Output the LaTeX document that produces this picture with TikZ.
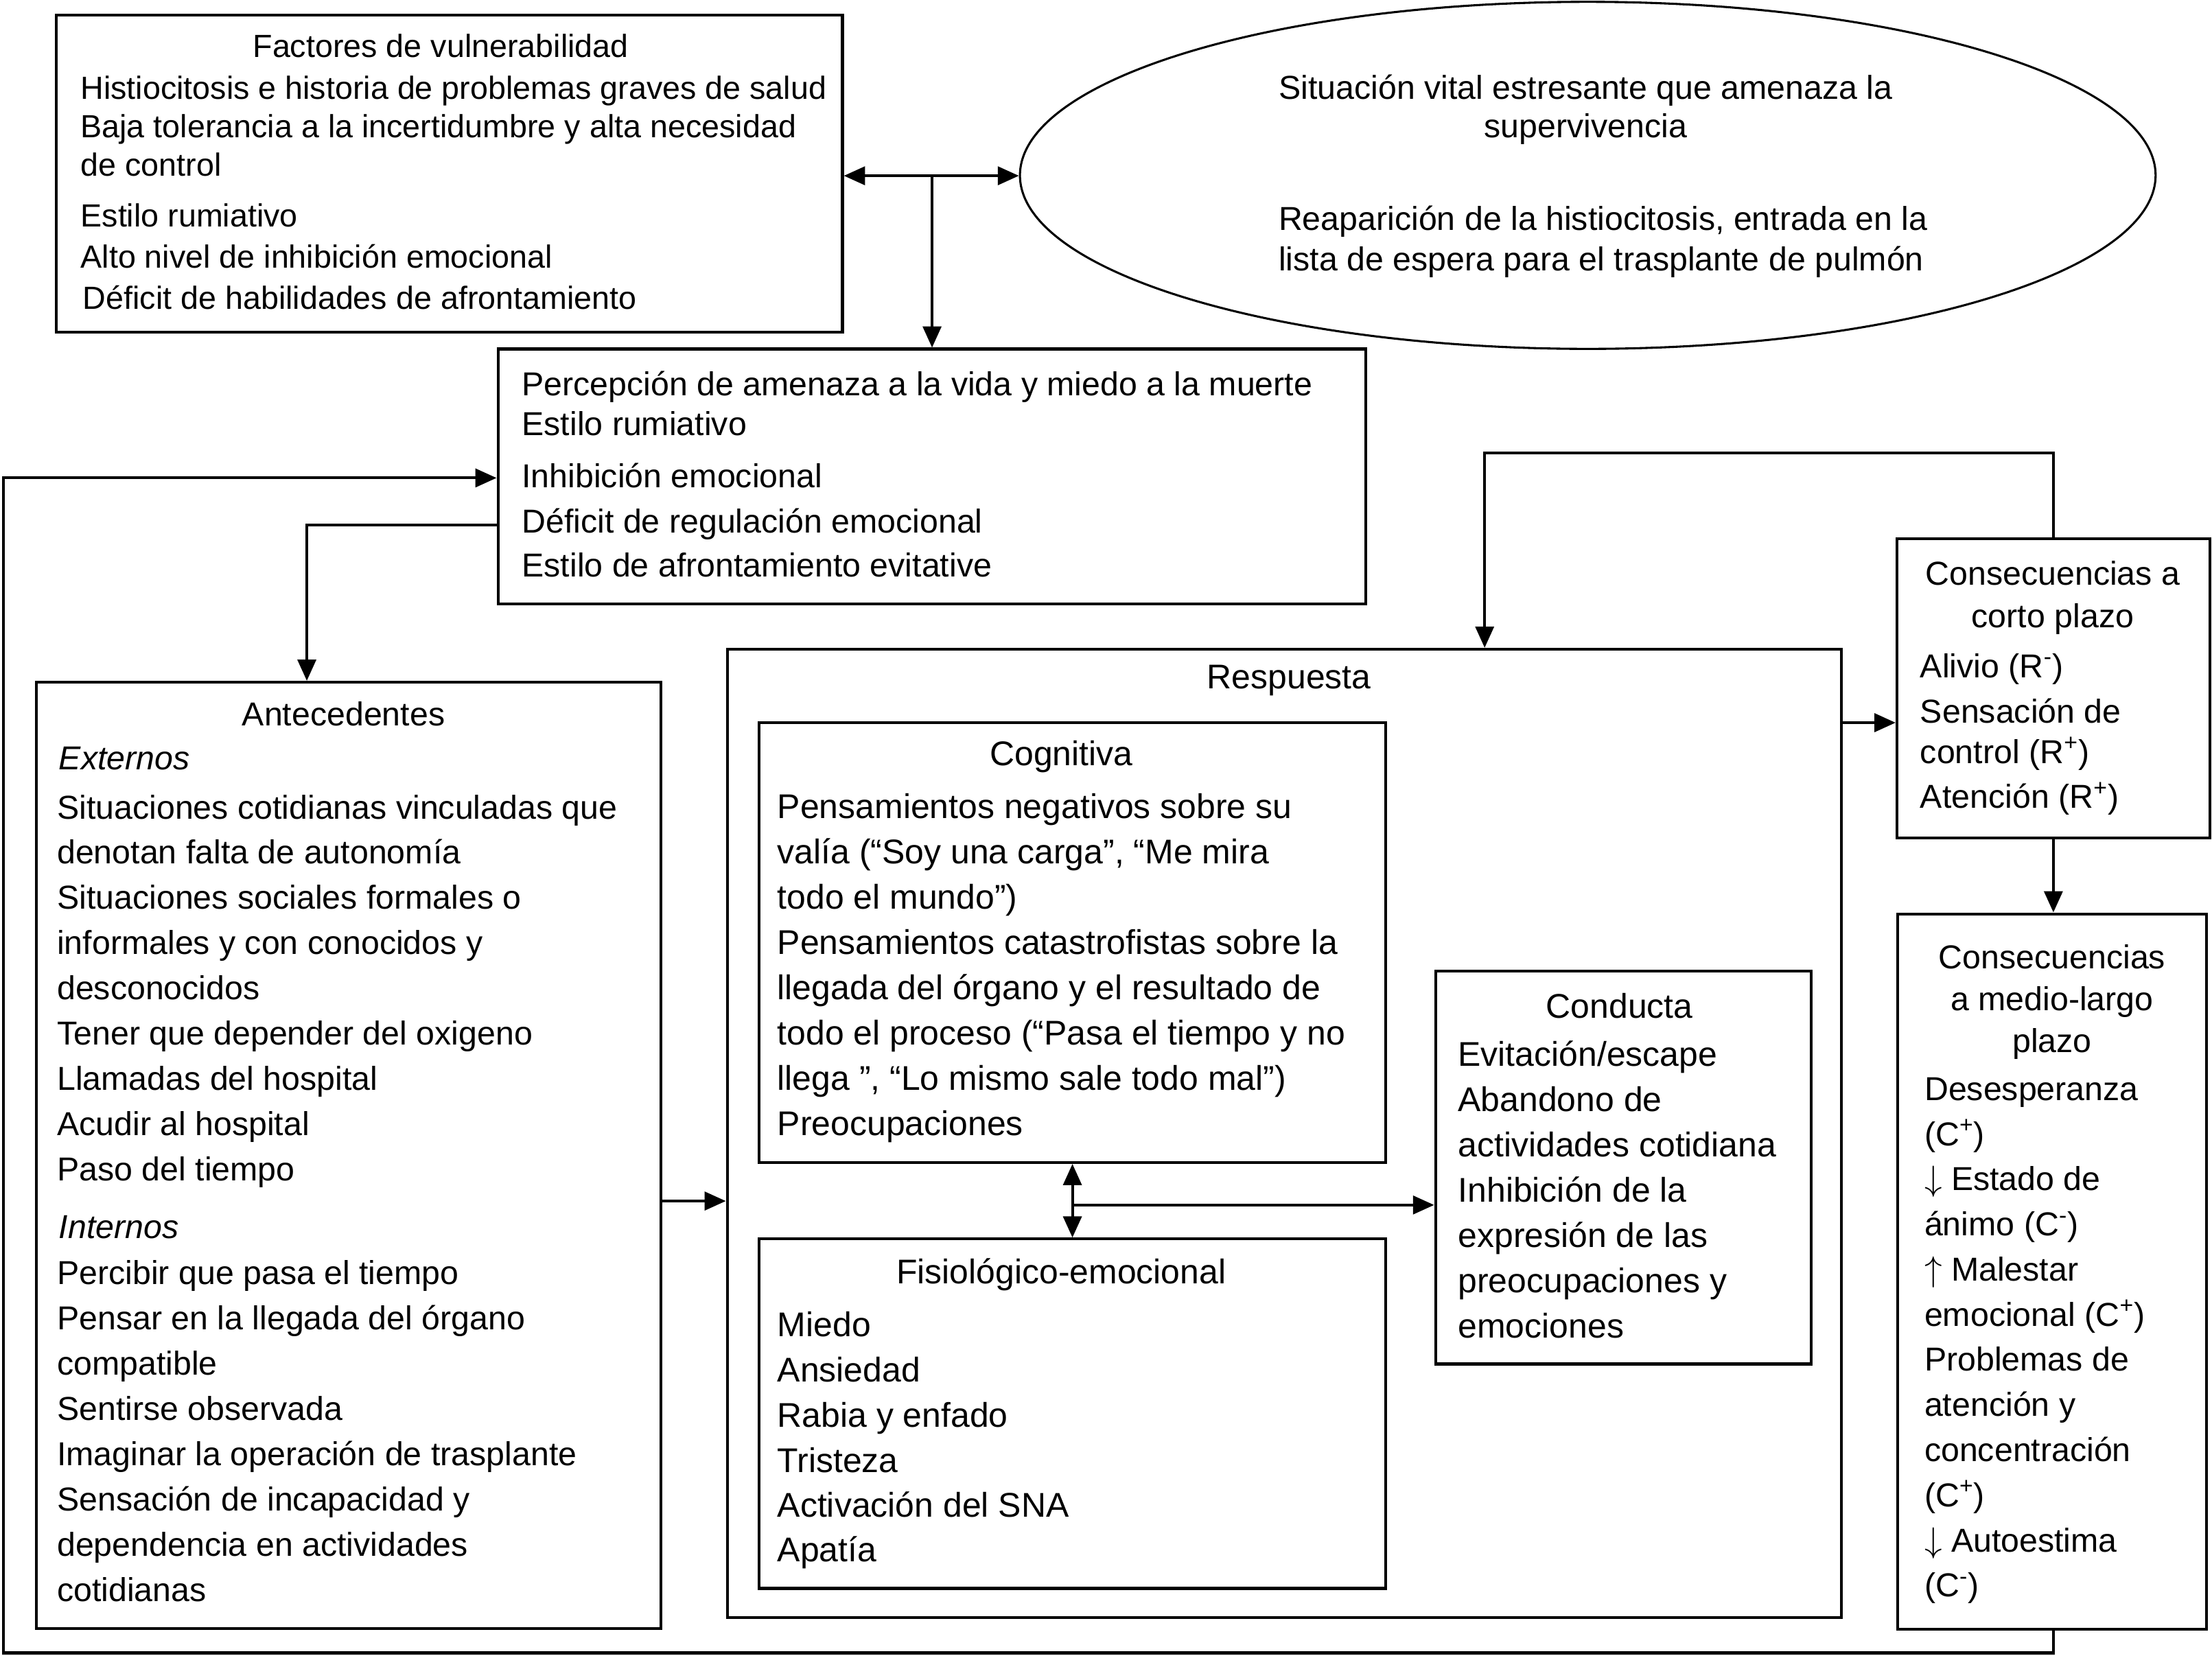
\documentclass[tikz,border=0pt]{standalone}
\usepackage{fontspec}
\setmainfont{Liberation Sans}
\usetikzlibrary{arrows.meta,shapes.geometric,fit}
\begin{document}
\begin{tikzpicture}[x=1pt,y=-1pt,
  box/.style={draw,line width=2pt,inner sep=0pt},
  txt/.style={inner sep=0pt,font=\fontsize{23.5}{28}\selectfont,anchor=base west},
  ttl/.style={txt,anchor=base},
  small/.style={font=\fontsize{22.7}{28}\selectfont},
  big/.style={font=\fontsize{24.3}{28}\selectfont},
  ital/.style={font=\fontsize{23.5}{28}\selectfont\itshape},
  hd/.tip={Triangle[length=15pt,width=13pt]},
  con/.style={line width=2pt},
  arr/.style={con,-hd},
  darr/.style={con,hd-hd}]
\path[fill=white,use as bounding box] (0,0) rectangle (1568,1173.5);

% ---- boxes
\node[box,fit={(39.7,10.6) (597.2,235.4)}] (fac) {};
\node[draw,ellipse,line width=1.5pt,minimum width=805pt,minimum height=246pt,inner sep=0pt] (ell) at (1125.5,124.3) {};
\node[box,fit={(353,247.4) (968,428)}] (per) {};
\node[box,fit={(25.6,483.6) (468.6,1154.5)}] (ant) {};
\node[box,fit={(515.5,460.2) (1305.1,1146.7)}] (resp) {};
\node[box,fit={(538.2,512.3) (982.3,824.1)}] (cog) {};
\node[box,fit={(538.2,878.3) (982.3,1126)}] (fis) {};
\node[box,fit={(1017.6,688.5) (1284,966.9)}] (con) {};
\node[box,fit={(1344.7,381.9) (1566.4,593.8)}] (cco) {};
\node[box,fit={(1345.3,647.8) (1564.1,1155)}] (cml) {};

% ---- texts: Factores
\node[ttl,small] (facT) at (312.4,40.5) {Factores de vulnerabilidad};
\foreach \y/\t [count=\i] in {70.4/{Histiocitosis e historia de problemas graves de salud},
  97.7/{Baja tolerancia a la incertidumbre y alta necesidad},
  124.8/{de control},160.6/{Estilo rumiativo},189.9/{Alto nivel de inhibición emocional}}
  \node[txt,small] (fac\i) at (57,\y) {\t};
\node[txt,small] (fac6) at (58.6,219.2) {Déficit de habilidades de afrontamiento};

% ---- ellipse texts
\node[ttl] (ell1) at (1124,70.4) {Situación vital estresante que amenaza la};
\node[ttl] (ell2) at (1124,97.7) {supervivencia};
\node[txt] (ell3) at (906.2,163.4) {Reaparición de la histiocitosis, entrada en la};
\node[txt] (ell4) at (906.2,192) {lista de espera para el trasplante de pulmón};

% ---- Percepcion
\foreach \y/\t [count=\i] in {280.7/{Percepción de amenaza a la vida y miedo a la muerte},
  308.6/{Estilo rumiativo},345.7/{Inhibición emocional},
  377.6/{Déficit de regulación emocional},409/{Estilo de afrontamiento evitative}}
  \node[txt] (per\i) at (369.8,\y) {\t};

% ---- Antecedentes
\node[ttl] (antT) at (243.5,514.7) {Antecedentes};
\node[txt,ital] (antE) at (41.6,545.7) {Externos};
\foreach \y/\t [count=\i] in {580.4/{Situaciones cotidianas vinculadas que},
  612.4/{denotan falta de autonomía},644.5/{Situaciones sociales formales o},
  676.6/{informales y con conocidos y},708.6/{desconocidos},
  740.6/{Tener que depender del oxigeno},772.7/{Llamadas del hospital},
  804.8/{Acudir al hospital},836.8/{Paso del tiempo}}
  \node[txt] (antx\i) at (40.3,\y) {\t};
\node[txt,ital] (antI) at (41.6,877.9) {Internos};
\foreach \y/\t [count=\i] in {910.7/{Percibir que pasa el tiempo},
  942.8/{Pensar en la llegada del órgano},974.9/{compatible},
  1007/{Sentirse observada},1039.1/{Imaginar la operación de trasplante},
  1071.2/{Sensación de incapacidad y},1103.3/{dependencia en actividades},
  1135.4/{cotidianas}}
  \node[txt] (anti\i) at (40.3,\y) {\t};

% ---- Respuesta
\node[ttl,big] (respT) at (913.7,488.1) {Respuesta};
\node[ttl,big] (cogT) at (752.3,542.7) {Cognitiva};
\foreach \y/\t [count=\i] in {580/{Pensamientos negativos sobre su},
  612.1/{valía (“Soy una carga”, “Me mira},644.2/{todo el mundo”)},
  676.3/{Pensamientos catastrofistas sobre la},
  708.4/{llegada del órgano y el resultado de},
  740.5/{todo el proceso (“Pasa el tiempo y no},
  772.6/{llega ”, “Lo mismo sale todo mal”)},804.7/{Preocupaciones}}
  \node[txt,big] (cog\i) at (550.9,\y) {\t};
\node[ttl,big] (fisT) at (752.3,909.9) {Fisiológico-emocional};
\foreach \y/\t [count=\i] in {947.5/{Miedo},979.5/{Ansiedad},1011.5/{Rabia y enfado},
  1043.6/{Tristeza},1075.6/{Activación del SNA},1107.2/{Apatía}}
  \node[txt,big] (fis\i) at (550.9,\y) {\t};
\node[ttl,big] (conT) at (1148,721.7) {Conducta};
\foreach \y/\t [count=\i] in {755.9/{Evitación/escape},787.9/{Abandono de},
  820/{actividades cotidiana},852.1/{Inhibición de la},884.2/{expresión de las},
  916.3/{preocupaciones y},948.4/{emociones}}
  \node[txt,big] (con\i) at (1033.4,\y) {\t};

% ---- Consecuencias
\node[ttl] (ccoT1) at (1455.1,414.5) {Consecuencias a};
\node[ttl] (ccoT2) at (1455.1,444.8) {corto plazo};
\foreach \y/\t [count=\i] in {480.2/{Alivio (R\textsuperscript{-})},512.3/{Sensación de},
  541/{control (R\textsuperscript{+})},573/{Atención (R\textsuperscript{+})}}
  \node[txt] (cco\i) at (1361,\y) {\t};
\node[ttl] (cmlT1) at (1454.6,686.5) {Consecuencias};
\node[ttl] (cmlT2) at (1454.6,716.4) {a medio-largo};
\node[ttl] (cmlT3) at (1454.6,746.2) {plazo};
\foreach \y/\t [count=\i] in {780/{Desesperanza},812/{(C\textsuperscript{+})},
  844/{$\downarrow$ Estado de},876/{ánimo (C\textsuperscript{-})},908/{$\uparrow$ Malestar},
  940/{emocional (C\textsuperscript{+})},972/{Problemas de},1004/{atención y},
  1036/{concentración},1068/{(C\textsuperscript{+})},1100/{$\downarrow$ Autoestima},
  1132/{(C\textsuperscript{-})}}
  \node[txt] (cml\i) at (1364,\y) {\t};

% ---- connectors
\coordinate (j0) at (660.7,124.6);
\draw[darr] (fac.east |- j0) -- (j0 -| ell.west);
\draw[arr] (j0) -- (j0 |- per.north);
\coordinate (lb) at (2.5,1171.7);
\coordinate (lt) at (2.5,338.8);
\draw[arr] (cml.south -| cco.south) |- (lb) -- (lt) -- (lt -| per.west);
\coordinate (pa) at (217.5,372.3);
\draw[arr] (pa -| per.west) -- (pa) -- (pa |- ant.north);
\coordinate (ar) at (0,851.4);
\draw[arr] (ar -| ant.east) -- (ar -| resp.west);
\coordinate (cf) at (760.2,854.2);
\draw[darr] (cf |- cog.south) -- (cf |- fis.north);
\draw[arr] (cf) -- (cf -| con.west);
\coordinate (tf) at (1052.4,321.1);
\draw[arr] (cco.north) |- (tf) -- (tf |- resp.north);
\coordinate (rc) at (0,512.3);
\draw[arr] (rc -| resp.east) -- (rc -| cco.west);
\draw[arr] (cco.south) -- (cco.south |- cml.north);
\end{tikzpicture}
\end{document}
